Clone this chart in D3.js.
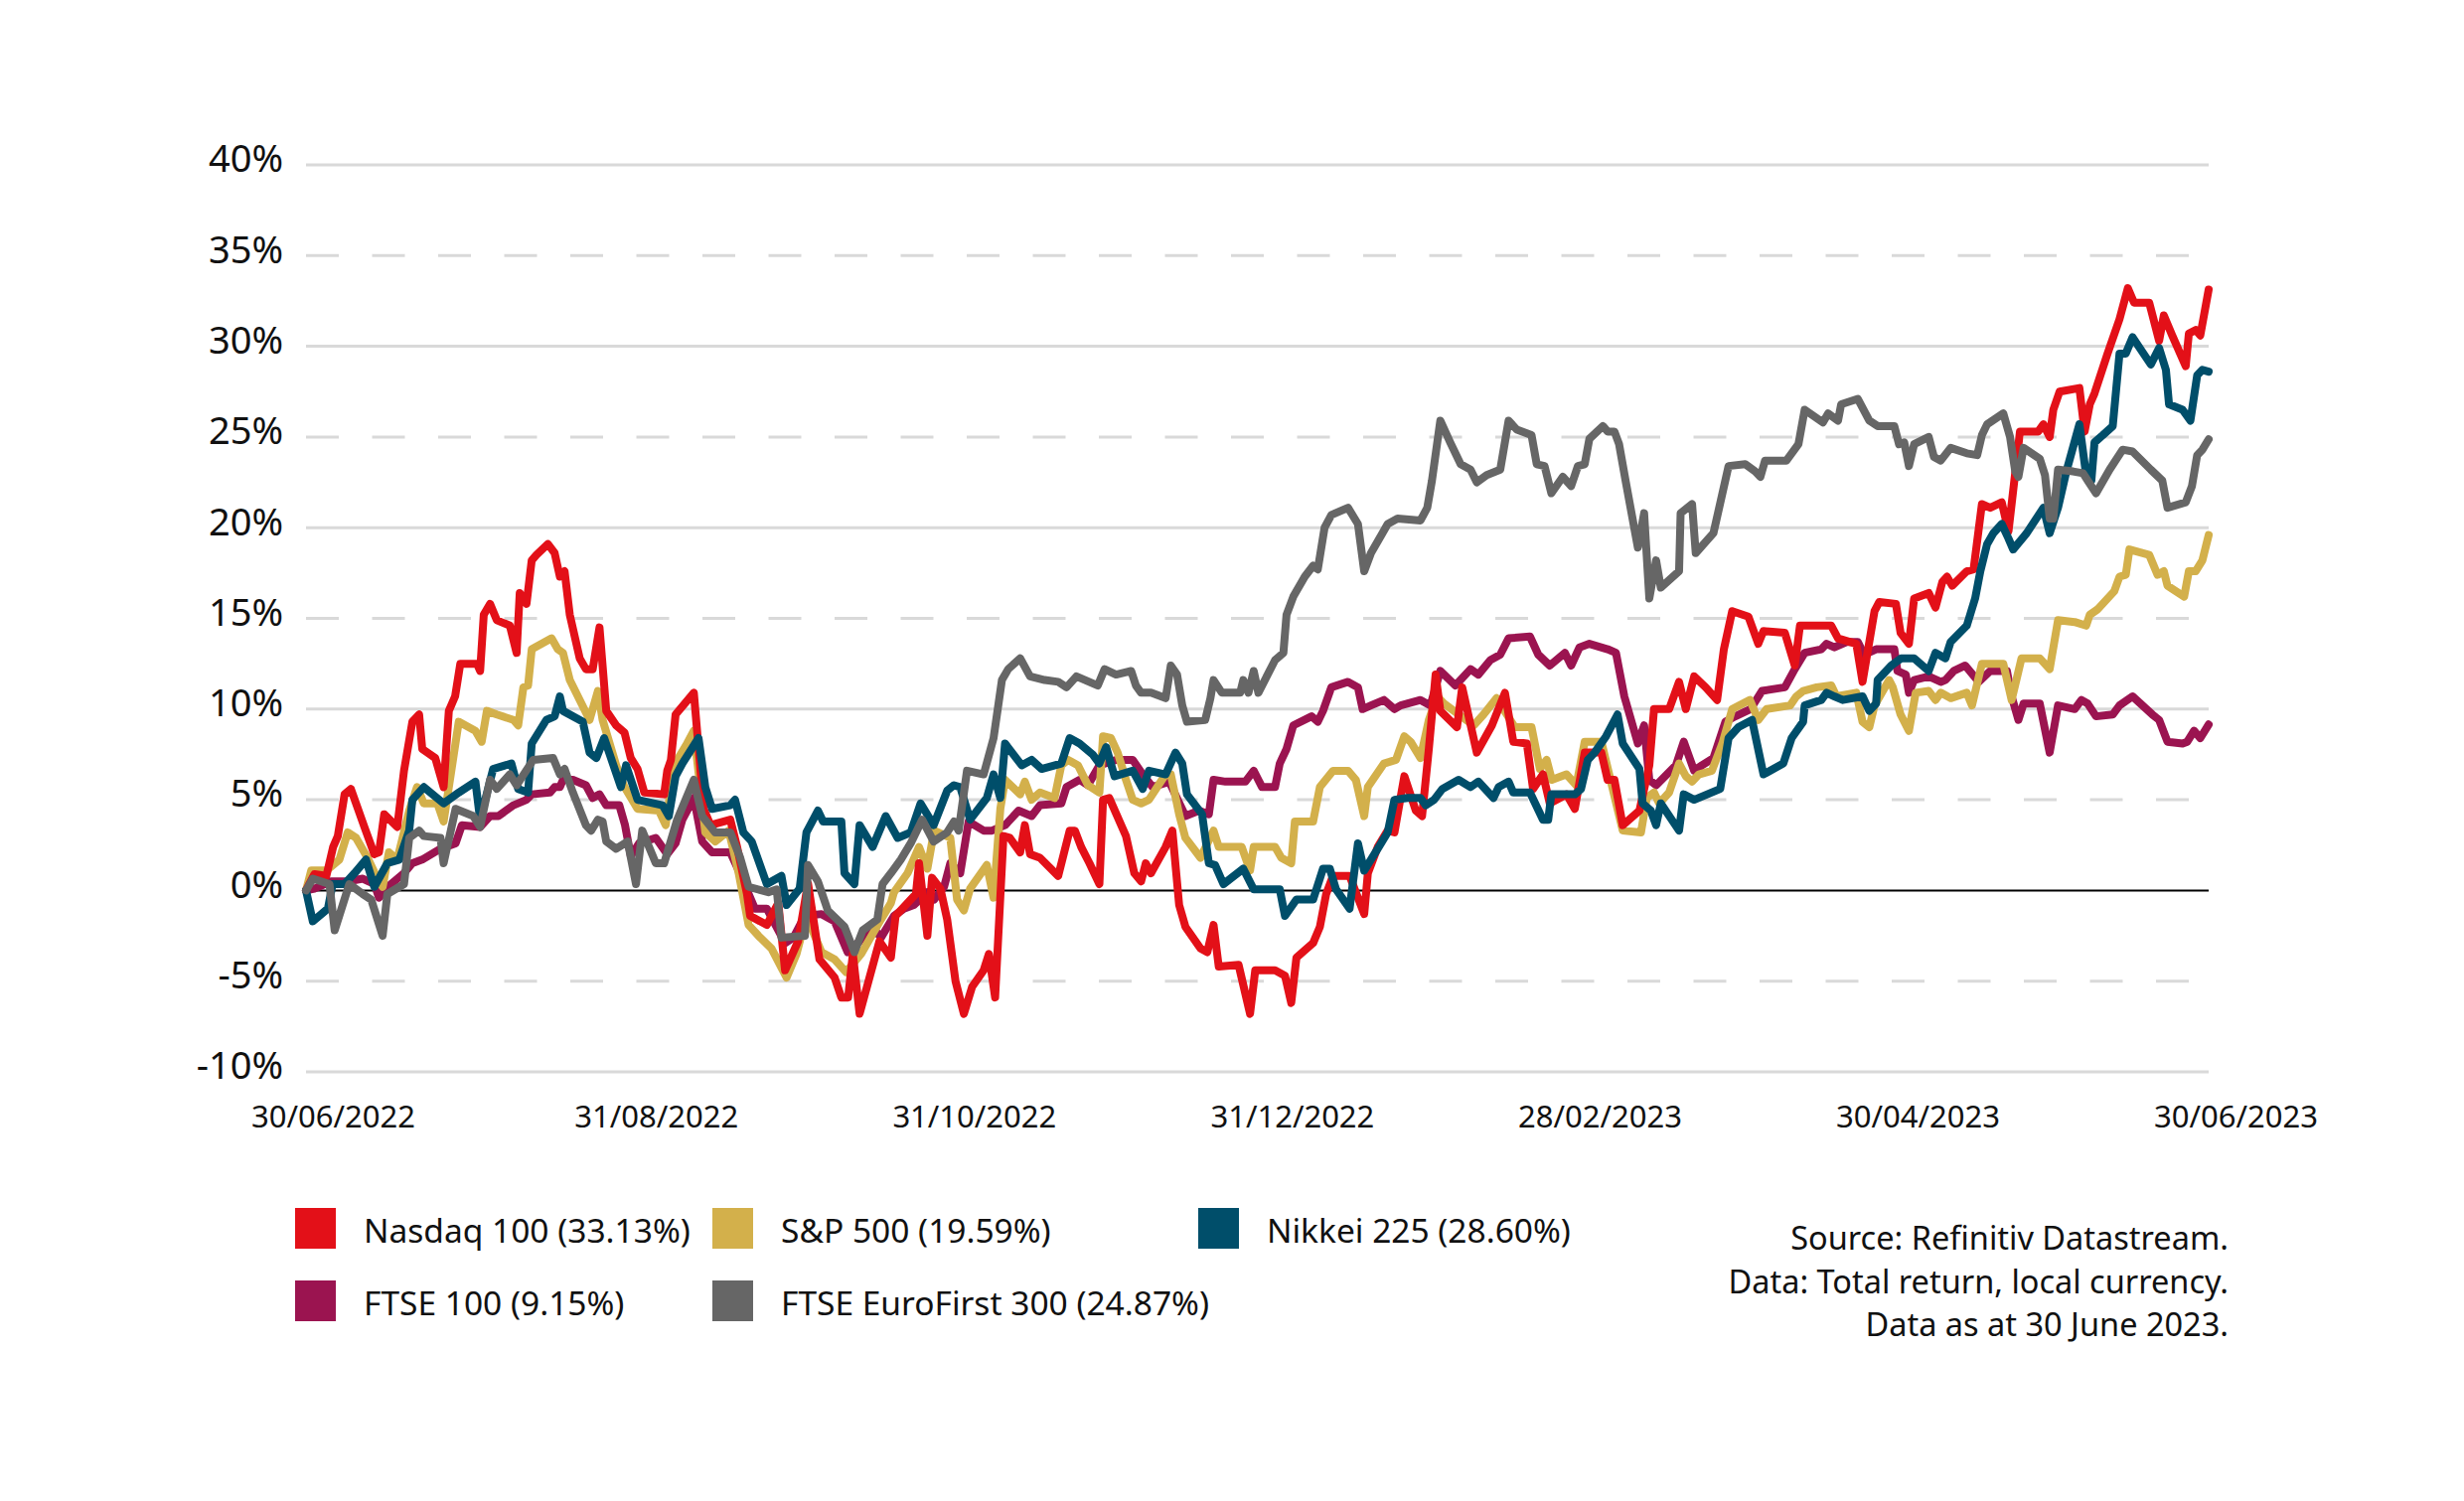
<!DOCTYPE html>
<html>
<head>
<meta charset="utf-8">
<script src="https://cdn.jsdelivr.net/npm/d3@7"></script>
<style>
  html, body { margin: 0; padding: 0; background: #ffffff; }
  svg { display: block; }
  text { font-family: "Noto Sans", "Open Sans", sans-serif; fill: #111111; }
</style>
</head>
<body>
<svg id="chart" width="2480" height="1511"></svg>
<script>
// ---------------- DATA ----------------
// x values: days since 30/06/2022 ; y values: cumulative total return (%)
const startDate = "2022-06-30";
const endDate = "2023-06-30";
const xTickLabels = ["30/06/2022", "31/08/2022", "31/10/2022", "31/12/2022", "28/02/2023", "30/04/2023", "30/06/2023"];
const yTicks = [-10, -5, 0, 5, 10, 15, 20, 25, 30, 35, 40];

const seriesNames = ["Nasdaq 100 (33.13%)", "S&P 500 (19.59%)", "Nikkei 225 (28.60%)", "FTSE 100 (9.15%)", "FTSE EuroFirst 300 (24.87%)"];
const seriesColors = ["#E31018", "#D3B04B", "#004E6A", "#9B1450", "#666666"];

const nasdaq100 = [[0,0],[1.6,0.9],[3.9,0.8],[5.2,2.4],[6.1,3.0],[7.4,5.3],[8.6,5.6],[11.2,3.5],[13.1,2.0],[14,2.1],[15,4.2],[17.5,3.5],[18.8,6.6],[20.4,9.3],[21.7,9.7],[22.3,7.8],[24.8,7.3],[26.4,5.7],[27.4,9.9],[28.6,10.7],[29.6,12.5],[32.8,12.5],[33.4,12.1],[34.1,15.2],[35.3,15.8],[36.6,14.9],[39.1,14.6],[40.4,13.1],[41,16.4],[42.3,15.8],[43.3,18.2],[44.2,18.5],[46.4,19.1],[47.7,18.6],[48.7,17.3],[49.6,17.6],[50.6,15.2],[52.5,12.8],[53.7,12.2],[55,12.2],[56.3,14.5],[57.6,9.9],[59.5,9.1],[61.1,8.7],[62.3,7.3],[63.6,6.7],[64.9,5.4],[68.7,5.3],[69.3,6.6],[70,7.2],[70.9,9.7],[74.4,10.9],[76.3,4.5],[77.6,3.6],[81.4,3.9],[82.7,2.4],[84.6,-0.2],[85.2,-1.4],[88.4,-1.9],[90.6,-0.7],[91.9,-4.4],[94.4,-2.8],[96.3,0.4],[98.5,-3.8],[101.4,-4.8],[102.7,-5.9],[104,-5.9],[104.9,-3.5],[106.2,-6.8],[110,-2.8],[112.2,-3.7],[113.1,-1.4],[117,-0.2],[117.6,1.5],[119.2,-2.5],[120.1,0.7],[121.7,0.1],[123,-1.6],[124.6,-5.0],[126.2,-6.8],[127.8,-5.3],[130,-4.4],[131,-3.5],[132.2,-5.9],[133.8,3.0],[135,2.9],[137,2.1],[137.9,3.6],[138.9,2.0],[140.8,1.8],[144.3,0.8],[146.5,3.3],[147.5,3.3],[148.7,2.4],[150.3,1.5],[152.2,0.35],[152.9,5.0],[154.1,5.1],[157.3,3.0],[158.9,0.95],[160.2,0.5],[161.1,1.5],[162.1,0.95],[164.9,2.4],[166.2,3.3],[167.5,-0.8],[168.7,-2.0],[171.6,-3.2],[172.9,-3.4],[174.1,-1.9],[175.1,-4.2],[178.9,-4.1],[181.1,-6.8],[182.1,-4.4],[185.9,-4.4],[187.8,-4.7],[189,-6.2],[190,-3.7],[193.2,-2.9],[194.5,-2.0],[195.7,-0.2],[197,0.8],[200.2,0.8],[203,-1.3],[203.7,0.95],[205.6,2.4],[207.5,3.3],[208.8,3.2],[210.7,6.3],[212.9,4.4],[214.1,4.1],[215.4,7.8],[216.7,11.9],[217.6,9.9],[220.8,9.0],[221.8,11.2],[224.6,7.6],[227.5,9.1],[230,10.9],[231.6,8.2],[234.2,8.1],[235.4,5.6],[237.3,6.4],[238.6,4.8],[241.8,5.3],[243.4,4.5],[245.3,7.6],[248.5,7.6],[249.7,6.1],[251,6.1],[252.6,3.6],[255.8,4.4],[257.7,6.9],[258.6,10.0],[261.5,10.0],[263.4,11.5],[264.7,10.0],[266.3,11.8],[268.5,11.2],[270.7,10.5],[272,13.3],[273.6,15.4],[276.7,15.1],[278.6,13.6],[279.6,14.3],[283.7,14.2],[285.6,12.4],[286.6,14.6],[292.6,14.6],[293.9,13.9],[297.4,13.6],[298.6,11.5],[300.9,15.4],[301.8,15.9],[305,15.8],[305.9,14.2],[307.5,13.6],[308.5,16.1],[311.3,16.4],[312.6,15.6],[313.9,17.0],[314.8,17.3],[315.8,16.8],[318.6,17.6],[319.9,17.7],[321.5,21.3],[323.1,21.1],[325.3,21.4],[326.6,19.8],[328.8,25.3],[332.3,25.3],[333.3,25.7],[334.5,25.0],[335.2,26.5],[336.4,27.5],[340.2,27.7],[341.2,25.3],[342.2,26.8],[343.1,27.4],[345.6,29.6],[347.9,31.5],[349.5,33.2],[350.7,32.4],[353.6,32.4],[355.5,30.3],[356.4,31.7],[358,30.6],[360.6,28.9],[361.2,30.7],[362.5,30.9],[363.4,30.6],[365,33.13]];

const sp500 = [[0,0],[1,1.1],[3.9,1.1],[6.4,1.7],[8,3.2],[9.6,2.9],[11.8,1.8],[13.7,0.65],[14.7,0.2],[15.9,2.1],[17.5,1.7],[19.8,4.4],[21.3,5.7],[22.6,4.8],[25.2,4.8],[26.4,3.8],[27.4,5.7],[29.3,9.3],[32.5,8.8],[33.7,8.2],[34.7,9.9],[36.6,9.7],[39.8,9.4],[40.7,9.1],[41.7,11.2],[42.6,11.3],[43.3,13.3],[47.1,13.9],[48.3,13.3],[49.3,13.1],[50.6,11.6],[54.4,9.4],[56,11.0],[56.9,9.4],[59.5,6.9],[61.1,5.7],[63.6,4.5],[67.7,4.4],[69,3.6],[70.6,6.9],[73.1,8.1],[74.4,8.8],[76.6,3.2],[78.5,2.7],[81.1,3.3],[83,0.95],[84.9,-1.9],[86.8,-2.5],[89.3,-3.2],[92.2,-4.8],[94.1,-3.5],[96,-1.4],[98.9,-3.4],[101.4,-3.8],[103.6,-4.5],[106.5,-3.5],[107.7,-2.9],[110.3,-1.6],[112.2,-0.7],[112.8,-0.1],[115.4,0.95],[117.6,2.4],[119.2,1.2],[120.5,3.3],[123.6,2.9],[124.9,-0.5],[126.2,-1.1],[127.4,0.1],[130.6,1.4],[131.9,-0.4],[133.2,4.5],[134.1,6.1],[137,5.3],[137.9,6.0],[139.2,5.0],[140.8,5.4],[143.6,5.1],[144.9,6.9],[146.2,7.2],[148.1,6.9],[150,5.8],[152.2,5.4],[152.9,8.5],[154.4,8.4],[155.7,7.6],[157.3,6.1],[158.6,5.0],[160.2,4.8],[161.7,5.0],[163.3,5.7],[164.9,6.4],[165.9,6.4],[167.5,4.2],[168.7,2.9],[171.6,1.8],[174.1,3.3],[175.1,2.4],[179.5,2.4],[181.1,1.1],[181.8,2.4],[185.9,2.4],[187.1,1.8],[189,1.5],[189.7,3.8],[193.2,3.8],[194.5,5.7],[197,6.6],[199.9,6.6],[201.4,6.1],[203,4.1],[203.7,5.7],[206.8,7.0],[209.1,7.2],[210.7,8.5],[211.9,8.2],[213.8,7.3],[215.4,9.4],[217,10.7],[218.3,10.3],[224,9.1],[225.9,9.7],[228.4,10.6],[231.9,9.0],[235.1,9.0],[236.7,6.7],[238,7.2],[239,6.1],[241.8,6.4],[243.7,5.8],[245.3,8.2],[248.5,8.2],[250,6.4],[252.6,3.3],[256.1,3.2],[257.2,5.1],[258.6,5.4],[259.6,4.8],[261.5,5.4],[263.4,7.0],[264.7,6.3],[265.9,6.0],[267.2,6.4],[269.7,6.6],[271.7,8.1],[273.6,10.0],[277,10.5],[278.6,9.4],[280.2,10.0],[284.7,10.2],[285.9,10.7],[287.2,11.0],[289.8,11.2],[292.6,11.3],[293.6,10.7],[297.4,10.9],[298.6,9.3],[299.9,9.0],[300.9,10.2],[303.7,11.6],[304.4,11.2],[305.9,9.7],[307.5,8.8],[308.8,10.9],[311.3,11.0],[312.6,10.5],[313.6,10.9],[315.5,10.6],[318.6,10.9],[319.6,10.2],[321.5,12.5],[325.6,12.5],[327.2,10.5],[329.1,12.8],[332.6,12.8],[334.5,12.2],[336.1,14.9],[339.3,14.8],[341.5,14.6],[342.2,15.2],[343.7,15.5],[346.9,16.5],[347.9,17.3],[349.1,17.4],[349.8,18.8],[353.6,18.5],[355.2,17.4],[356.4,17.6],[357.1,16.8],[360.3,16.2],[361.2,17.6],[362.5,17.6],[363.8,18.2],[365,19.59]];

const nikkei225 = [[0,0],[1.3,-1.7],[4.2,-1.0],[5.1,0.35],[7.4,0.35],[9.3,0.95],[11.5,1.7],[13.1,0.2],[15.6,1.5],[17.9,1.7],[19.8,3.3],[20.4,5.0],[22.6,5.7],[26.4,4.8],[29.3,5.4],[32.5,6.0],[33.4,3.9],[35.9,6.7],[39.4,7.0],[40.7,5.6],[42.6,5.4],[43.3,8.1],[46.1,9.4],[47.7,9.6],[48.7,10.7],[49.3,9.9],[53.1,9.3],[54.4,7.6],[55.7,7.3],[57.2,8.4],[60.4,5.7],[61.4,6.9],[63.6,5.0],[68.4,4.7],[69.6,4.1],[70.9,6.3],[72.2,7.0],[75.3,8.4],[76.6,5.7],[77.9,4.5],[81.4,4.7],[82.3,5.0],[83.9,3.2],[85.5,2.7],[88.4,0.35],[91.2,0.8],[92.2,-0.8],[94.7,0.1],[96,3.2],[98.2,4.4],[99.2,3.8],[102.7,3.8],[103.3,0.95],[105.2,0.35],[106.2,3.6],[108.7,2.4],[111.2,4.1],[113.5,2.9],[116,3.2],[117.9,4.8],[120.4,3.6],[123,5.5],[124.3,5.8],[125.5,5.7],[127.4,3.9],[130.6,5.1],[131.9,6.4],[133.2,5.1],[134.1,8.1],[137.3,6.9],[139.2,7.2],[141.1,6.7],[144.9,7.0],[146.5,8.4],[148.4,8.1],[150.9,7.5],[152.2,7.0],[153.5,7.9],[155.1,6.3],[158.6,6.6],[160.5,5.6],[161.7,6.6],[164.9,6.4],[166.8,7.6],[168.1,7.0],[169,5.3],[171.9,4.2],[173.2,1.5],[174.4,1.4],[176,0.35],[179.8,1.2],[181.8,0.06],[186.8,0.06],[187.8,-1.4],[190,-0.5],[193.2,-0.5],[195.1,1.2],[196.4,1.2],[197.6,0.06],[200.2,-1.0],[201.8,2.6],[203,1.1],[205.6,2.3],[207.5,3.2],[208.8,5.0],[211.3,5.1],[213.8,5.1],[214.8,4.7],[216.4,5.0],[218,5.6],[221.1,6.1],[223.4,5.7],[224.9,6.0],[227.8,5.1],[228.8,5.7],[230.7,6.0],[231.6,5.4],[234.8,5.4],[237.3,3.9],[238.3,3.9],[238.9,5.3],[243.4,5.3],[244.6,5.6],[245.9,7.2],[247.2,7.6],[249.4,8.5],[251.6,9.7],[252.6,8.1],[255.8,6.7],[256.4,4.8],[258,4.4],[259,3.6],[259.9,4.8],[263.4,3.3],[264.3,5.3],[266.3,5.0],[271.3,5.6],[272.9,8.4],[274.8,9.0],[277.4,9.4],[279.6,6.4],[283.4,7.0],[285,8.4],[287.2,9.3],[287.5,10.2],[290.7,10.5],[291.7,10.9],[293.2,10.7],[294.8,10.5],[298.6,10.7],[299.9,9.9],[301.2,10.3],[301.5,11.6],[304.1,12.4],[306,12.8],[308.5,12.8],[311.3,12.1],[312.6,13.1],[314.5,12.8],[315.5,13.7],[318.6,14.6],[320.2,16.1],[321.2,17.6],[322.5,19.1],[323.7,19.7],[325.3,20.2],[326.6,19.4],[327.5,18.8],[330.1,19.7],[333.3,21.1],[334.5,19.7],[336.1,21.1],[337.7,23.1],[340.2,25.7],[341.5,22.9],[342.5,22.6],[343.1,24.7],[344.7,25.1],[346.6,25.6],[347.9,29.6],[349.1,29.6],[350.4,30.5],[353.9,29.0],[355.5,29.9],[356.8,28.7],[357.4,26.8],[360,26.5],[361.5,25.9],[362.8,28.4],[363.8,28.7],[365,28.6]];

const ftse100 = [[0,0],[1.6,0.1],[4.8,0.5],[8,0.5],[10.9,0.65],[13.1,0.35],[14,-0.4],[16.3,0.35],[18.8,0.95],[20.4,1.5],[22.3,1.7],[25.8,2.3],[28.7,2.6],[29.9,3.6],[33.4,3.5],[35.3,4.1],[36.9,4.1],[39.8,4.7],[42.3,5.0],[43.3,5.3],[46.8,5.4],[47.7,5.7],[48.7,5.7],[49.3,6.1],[51.2,6.1],[53.7,5.8],[55,5.1],[56.3,5.3],[57.6,4.7],[60.1,4.7],[61.2,3.6],[62.3,1.9],[63.9,2.6],[67.1,2.9],[69.3,2.0],[70.9,2.6],[72.2,3.9],[74.4,5.1],[76,2.7],[77.9,2.1],[81.4,2.1],[83,1.1],[86.1,-1.0],[88.4,-1.0],[91.9,-2.9],[93.5,-2.6],[95.7,-1.4],[98.9,-1.3],[101.4,-1.7],[103.9,-3.4],[106.2,-2.8],[108.4,-1.9],[110.3,-2.6],[112.8,-1.4],[114.7,-1.0],[116.6,-0.8],[119.2,-0.1],[120.5,-0.5],[122.4,0.2],[123.6,1.5],[125.5,0.95],[127.1,3.8],[130,3.3],[131.6,3.3],[134.1,3.6],[136.7,4.4],[139.2,4.1],[140.8,4.7],[144.9,4.8],[145.9,5.7],[148.4,6.1],[150,5.8],[152.2,6.9],[155.4,7.2],[158.6,7.2],[160.5,6.4],[162.4,5.7],[165.6,6.0],[168.7,4.1],[171.3,4.4],[173.2,4.2],[174.1,6.1],[176.4,6.0],[180.2,6.0],[181.8,6.6],[183.4,5.7],[185.9,5.7],[186.8,7.0],[188.1,7.8],[189.4,9.1],[192.9,9.6],[194.1,9.3],[195.1,9.9],[196.7,11.2],[199.9,11.5],[201.8,11.2],[202.7,10.0],[204.3,10.2],[206.8,10.5],[208.8,10.0],[210,10.2],[213.8,10.5],[215.7,10.2],[217.6,12.1],[220.5,11.3],[223.4,12.2],[224.9,11.9],[227.2,12.7],[229.1,13.0],[230.7,13.9],[234.8,14.0],[236.4,13.0],[238.6,12.4],[241.5,13.1],[242.7,12.4],[244.3,13.4],[246.2,13.6],[249.7,13.3],[251.3,13.1],[252.9,10.7],[255.5,8.1],[256.7,9.1],[257.7,6.1],[259,5.8],[262.8,6.9],[264.3,8.2],[266.3,6.6],[267.8,6.9],[270,7.3],[272.3,9.3],[274.2,9.6],[277.1,10.0],[279.3,11.0],[283.7,11.2],[285.6,12.2],[287.5,13.1],[290.7,13.3],[291.7,13.6],[293.2,13.4],[295.5,13.7],[297.7,13.7],[298.9,13.0],[301.2,13.3],[304.7,13.3],[305.3,12.1],[306.9,11.9],[307.5,10.9],[308.5,11.6],[311.3,11.8],[313.6,11.5],[314.5,11.6],[316.1,12.1],[318.3,12.4],[320.9,11.5],[323.1,12.1],[326.3,12.1],[327.2,10.7],[328.5,9.4],[329.5,10.3],[332.6,10.3],[334.5,7.6],[336.1,10.2],[339.3,10.0],[340.6,10.5],[341.8,10.3],[343.4,9.6],[346.6,9.7],[347.9,10.2],[350.4,10.7],[354.2,9.7],[355.5,9.4],[357.1,8.2],[360,8.1],[360.9,8.2],[362.2,8.8],[363.4,8.4],[365,9.15]];

const ftseEuroFirst300 = [[0,0],[1.3,0.65],[4.5,0.35],[5.5,-2.2],[8.3,0.35],[10.9,-0.2],[12.5,-0.5],[14.7,-2.5],[15.6,-0.2],[18.8,0.35],[19.8,2.9],[21.7,3.3],[22.6,3.0],[25.8,2.9],[26.4,1.5],[28.7,4.5],[32.1,4.1],[33.4,3.5],[35.3,6.1],[36.6,5.6],[39.1,6.4],[40.4,5.8],[43.6,7.2],[47.4,7.3],[48.7,6.4],[49.6,6.7],[51.2,5.4],[53.7,3.6],[54.7,3.3],[56,3.9],[56.9,3.8],[57.6,2.7],[59.5,2.3],[61.7,2.7],[63.3,0.35],[64.5,3.3],[67.1,1.5],[68.7,1.5],[71.2,3.9],[74.4,6.1],[76,4.1],[78.5,3.2],[81.4,3.2],[83.3,1.8],[84.9,0.2],[88.7,-0.1],[90.3,0.06],[91.2,-2.6],[95.7,-2.5],[96.3,1.4],[98.2,0.5],[100.1,-1.1],[103.3,-2.0],[105.2,-3.4],[106.8,-2.2],[109.6,-1.6],[110.6,0.35],[112.2,0.95],[114.1,1.7],[116,2.6],[118.2,3.9],[120.4,2.7],[123,3.2],[124.3,3.8],[125.2,3.3],[126.8,6.6],[130,6.4],[131.9,8.4],[133.5,11.6],[134.7,12.2],[137,12.8],[138.9,11.8],[141.7,11.6],[144.3,11.5],[145.9,11.2],[147.8,11.8],[151.9,11.3],[153.2,12.2],[155.4,11.9],[158.3,12.1],[159.2,11.3],[160.2,10.9],[162.1,10.9],[164.9,10.6],[165.9,12.4],[167.1,11.9],[168.1,10.2],[169,9.3],[172.5,9.4],[173.5,10.6],[174.1,11.6],[175.7,10.9],[179.2,10.9],[179.8,11.6],[180.8,10.9],[181.8,12.1],[182.7,10.9],[185.9,12.7],[187.5,13.1],[188.1,15.2],[189.4,16.2],[191.6,17.3],[193.2,17.9],[194.1,17.7],[195.4,20.0],[196.7,20.7],[199.9,21.1],[201.8,20.2],[203,17.6],[204.3,18.6],[206.5,19.7],[207.5,20.2],[209.4,20.5],[213.8,20.4],[215.1,21.1],[216,22.6],[217.6,25.9],[219.5,24.7],[221.5,23.5],[223.4,23.2],[224.6,22.5],[226.5,22.9],[229.1,23.2],[230.7,25.9],[232.3,25.4],[235.1,25.1],[236.1,23.5],[237.6,23.4],[238.9,21.9],[241.1,22.8],[242.7,22.3],[244,23.4],[245.3,23.5],[246.2,24.9],[248.8,25.6],[249.7,25.3],[251,25.3],[251.9,24.6],[253.2,22.5],[255.5,18.9],[256.7,20.8],[257.7,16.1],[259,18.2],[259.9,16.7],[263.4,17.6],[263.7,20.8],[265.9,21.3],[266.6,18.6],[270,19.7],[272.9,23.4],[276.1,23.5],[278,23.1],[279,22.8],[279.9,23.7],[284,23.7],[286.3,24.6],[287.5,26.5],[291,25.8],[292,26.3],[293.9,25.9],[294.5,26.8],[297.7,27.1],[299.9,25.9],[301.5,25.6],[304.7,25.6],[305.6,24.6],[306.6,24.7],[307.5,23.4],[308.5,24.6],[311.3,25.0],[312.3,23.9],[313.6,23.7],[315.5,24.4],[318.6,24.1],[320.6,24.0],[321.5,25.1],[322.5,25.7],[325.6,26.3],[326.9,25.0],[327.9,23.1],[328.5,22.8],[329.5,24.4],[332.6,23.8],[333.6,22.9],[334.5,20.5],[335.2,20.5],[336.1,23.2],[339,23.1],[340.9,23.0],[341.8,22.6],[343.4,21.9],[346,23.2],[348.5,24.3],[350.4,24.2],[353.9,23.2],[356.1,22.6],[357.1,21.1],[360.6,21.4],[361.8,22.3],[362.8,24.0],[363.8,24.3],[365,24.87]];

const sourceLines = ["Source: Refinitiv Datastream.", "Data: Total return, local currency.", "Data as at 30 June 2023."];

// ---------------- CHART ----------------
const svg = d3.select("#chart");
svg.append("rect").attr("width", 2480).attr("height", 1511).attr("fill", "#ffffff");

const parse = d3.utcParse("%Y-%m-%d");
const t0 = parse(startDate), t1 = parse(endDate);
const dayToDate = d => new Date(t0.getTime() + d * 86400000);

const x = d3.scaleUtc().domain([t0, t1]).range([308, 2223]);
const y = d3.scaleLinear().domain([-10, 40]).range([1079, 166]);

// gridlines
const grid = svg.append("g");
grid.selectAll("line").data(yTicks.filter(v => v !== 0)).join("line")
  .attr("x1", x(t0)).attr("x2", x(t1))
  .attr("y1", d => y(d)).attr("y2", d => y(d))
  .attr("stroke", "#d9d9d9").attr("stroke-width", 3)
  .attr("stroke-dasharray", d => (d % 10 !== 0) ? "33,33.5" : null);

// y axis
const yAxis = d3.axisLeft(y).tickValues(yTicks).tickFormat(d => d + "%").tickSize(0).tickPadding(0);
const gy = svg.append("g").attr("transform", "translate(285,0)").call(yAxis);
gy.select(".domain").remove();
gy.selectAll("text").attr("font-size", 38).attr("font-family", "Noto Sans, sans-serif")
  .attr("fill", "#111").attr("dy", "0.18em").attr("x", 0).style("text-anchor", "end");

// x axis (labels only)
const tickDates = xTickLabels.map(s => d3.utcParse("%d/%m/%Y")(s));
const xAxis = d3.axisBottom(x).tickValues(tickDates).tickFormat(d3.utcFormat("%d/%m/%Y")).tickSize(0).tickPadding(0);
const gx = svg.append("g").attr("transform", "translate(27,1135)").call(xAxis);
gx.select(".domain").remove();
gx.selectAll("text").attr("font-size", 31).attr("font-family", "Noto Sans, sans-serif")
  .attr("fill", "#111").attr("dy", 0).attr("y", 0);

// zero line
svg.append("line").attr("x1", x(t0)).attr("x2", x(t1)).attr("y1", y(0)).attr("y2", y(0))
  .attr("stroke", "#000").attr("stroke-width", 2);

// lines
const line = d3.line().x(d => x(dayToDate(d[0]))).y(d => y(d[1])).curve(d3.curveLinear);
const allSeries = [nasdaq100, sp500, nikkei225, ftse100, ftseEuroFirst300];
const drawOrder = [3, 1, 0, 2, 4];
svg.append("g").selectAll("path").data(drawOrder).join("path")
  .attr("d", i => line(allSeries[i]))
  .attr("fill", "none")
  .attr("stroke", i => seriesColors[i])
  .attr("stroke-width", 8)
  .attr("stroke-linejoin", "round")
  .attr("stroke-linecap", "round");

// legend
const legendPos = [[297, 1216], [717, 1216], [1206, 1216], [297, 1289], [717, 1289]];
const lg = svg.append("g").selectAll("g").data(seriesNames).join("g")
  .attr("transform", (d, i) => `translate(${legendPos[i][0]},${legendPos[i][1]})`);
lg.append("rect").attr("width", 41).attr("height", 41).attr("fill", (d, i) => seriesColors[i]);
lg.append("text").attr("x", 69).attr("y", 35).attr("font-size", 33.5).text(d => d);

// source note
svg.append("g").selectAll("text").data(sourceLines).join("text")
  .attr("x", 2243).attr("y", (d, i) => 1258 + i * 43.5)
  .attr("text-anchor", "end").attr("font-size", 32.5).text(d => d);
</script>
</body>
</html>
